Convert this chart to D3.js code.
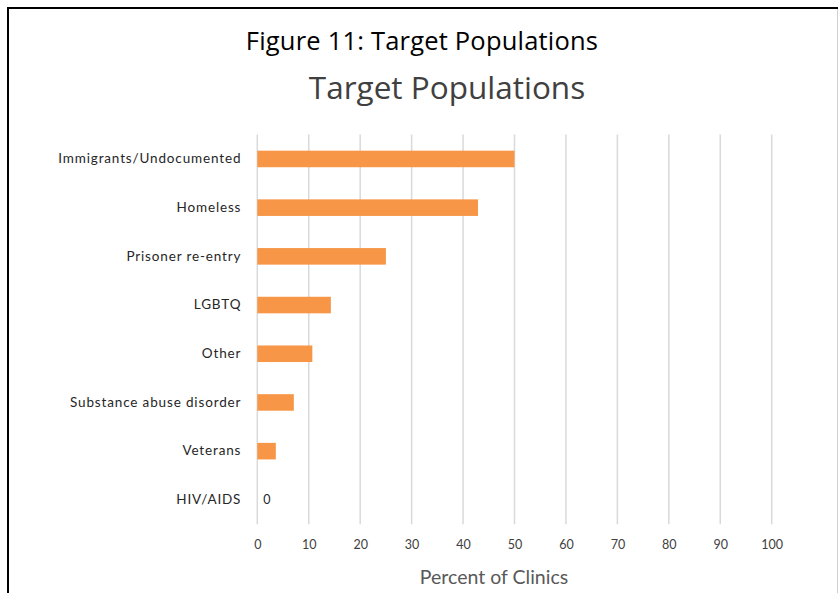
<!DOCTYPE html>
<html>
<head>
<meta charset="utf-8">
<script src="https://cdn.jsdelivr.net/npm/d3@7"></script>
<style>
  html, body { margin: 0; padding: 0; background: #fff; }
  svg { display: block; }
</style>
</head>
<body>
<svg id="chart" width="838" height="593"></svg>
<script>
// Target populations served, percent of clinics
const categories = [
  "Immigrants/Undocumented",
  "Homeless",
  "Prisoner re-entry",
  "LGBTQ",
  "Other",
  "Substance abuse disorder",
  "Veterans",
  "HIV/AIDS"
];
const values = [50, 42.9, 25, 14.3, 10.7, 7.1, 3.6, 0];
const xTicks = [0, 10, 20, 30, 40, 50, 60, 70, 80, 90, 100];

const svg = d3.select("#chart");
const W = 838, H = 593;
const font = "Lato, 'Open Sans', sans-serif";
const headFont = "'Open Sans', Lato, sans-serif";

// page frame
svg.append("line").attr("x1", 8).attr("x2", W).attr("y1", 8).attr("y2", 8)
  .attr("stroke", "#000").attr("stroke-width", 2);
svg.append("line").attr("x1", 8).attr("x2", 8).attr("y1", 7).attr("y2", H)
  .attr("stroke", "#000").attr("stroke-width", 2);
svg.append("line").attr("x1", 837.5).attr("x2", 837.5).attr("y1", 9).attr("y2", H)
  .attr("stroke", "#d0d0d0").attr("stroke-width", 1);

// figure caption and chart title
svg.append("text").attr("x", 422).attr("y", 49.5)
  .attr("text-anchor", "middle").attr("font-family", headFont)
  .attr("font-size", 25.5).attr("letter-spacing", 0.2).attr("fill", "#000")
  .text("Figure 11: Target Populations");
svg.append("text").attr("x", 447).attr("y", 99)
  .attr("text-anchor", "middle").attr("font-family", headFont)
  .attr("font-size", 31.5).attr("fill", "#404040")
  .text("Target Populations");

const plot = { left: 257.3, right: 771.7, top: 134.6, bottom: 524.2 };

const x = d3.scaleLinear().domain([0, 100]).range([plot.left, plot.right]);
const y = d3.scaleBand().domain(categories).range([plot.top, plot.bottom])
  .paddingInner(0.66).paddingOuter(0.33);

// vertical gridlines
svg.append("g").selectAll("line").data(xTicks).join("line")
  .attr("x1", d => x(d)).attr("x2", d => x(d))
  .attr("y1", plot.top).attr("y2", plot.bottom)
  .attr("stroke", "#d9d9d9").attr("stroke-width", 1.5);

// x axis tick labels
const xAxis = d3.axisBottom(x).tickValues(xTicks).tickSize(0).tickPadding(0);
const gx = svg.append("g").attr("transform", `translate(0,${plot.bottom + 21})`).call(xAxis);
gx.select(".domain").remove();
gx.selectAll("text").attr("font-family", font).attr("font-size", 12.5)
  .attr("fill", "#404040").attr("dy", "0.32em").attr("y", 0);

// y axis category labels
const yAxis = d3.axisLeft(y).tickSize(0).tickPadding(0);
const gy = svg.append("g").attr("transform", `translate(${plot.left - 16},0)`).call(yAxis);
gy.select(".domain").remove();
gy.selectAll("text").attr("font-family", font).attr("font-size", 13.5)
  .attr("fill", "#262626").attr("letter-spacing", 0.85);

// bars
svg.append("g").selectAll("rect").data(categories).join("rect")
  .attr("x", x(0))
  .attr("y", d => y(d))
  .attr("width", (d, i) => x(values[i]) - x(0))
  .attr("height", y.bandwidth())
  .attr("fill", "#F79646");

// value label for the empty bar
svg.append("g").selectAll("text").data(categories.filter((d, i) => values[i] === 0)).join("text")
  .attr("x", d => x(0) + 6)
  .attr("y", d => y(d) + y.bandwidth() / 2)
  .attr("dy", "0.35em")
  .attr("font-family", font).attr("font-size", 12.5).attr("fill", "#262626")
  .text(d => values[categories.indexOf(d)]);

// x axis title
svg.append("text").attr("x", 494).attr("y", 584)
  .attr("text-anchor", "middle").attr("font-family", font)
  .attr("font-size", 19.5).attr("fill", "#595959")
  .text("Percent of Clinics");
</script>
</body>
</html>
